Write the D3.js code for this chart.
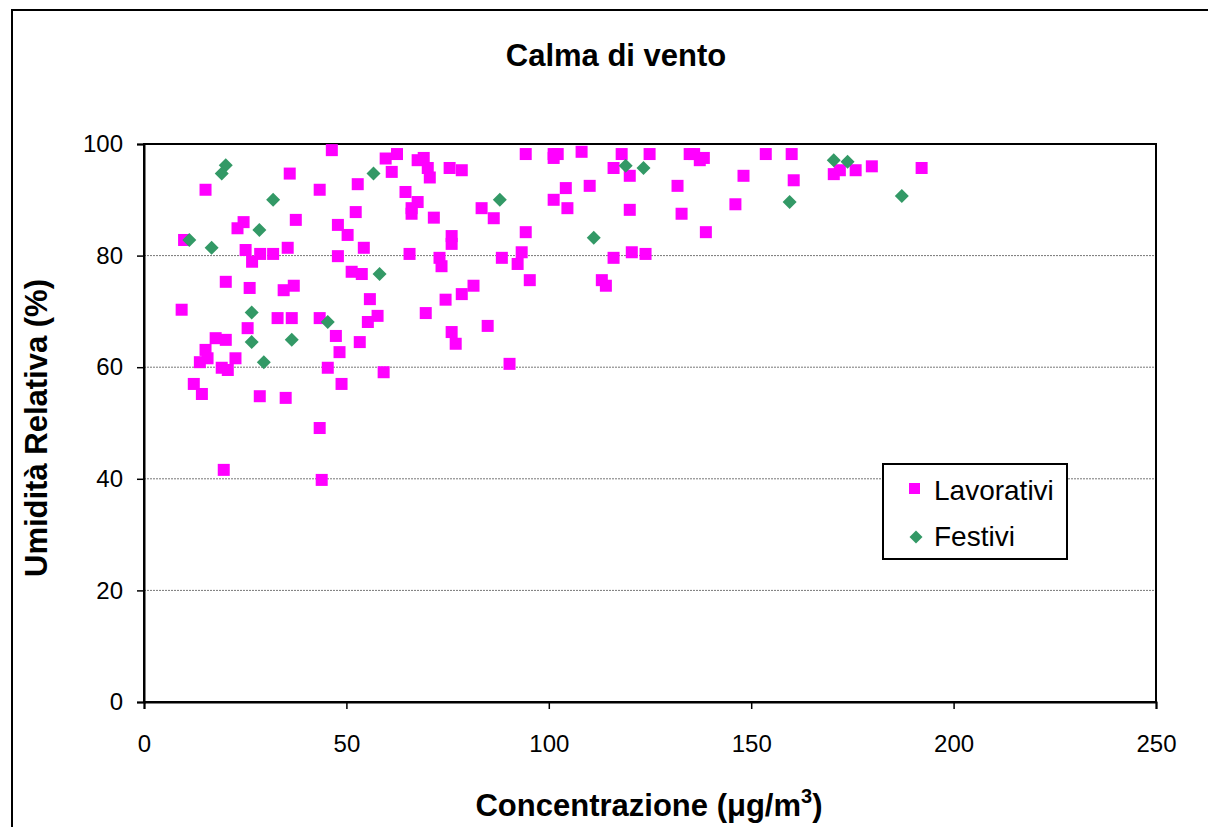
<!DOCTYPE html>
<html>
<head>
<meta charset="utf-8">
<script src="https://cdn.jsdelivr.net/npm/d3@7"></script>
<style>
  html, body { margin: 0; padding: 0; background: #fff; }
  svg { display: block; font-family: "Liberation Sans", Arial, sans-serif; }
</style>
</head>
<body>
<svg id="chart" width="1208" height="827"></svg>
<script>
// ---- Data ----
const title = "Calma di vento";
const xTitle = "Concentrazione (";
const yTitle = "Umidità Relativa (%)";
const seriesNames = ["Lavorativi", "Festivi"];
const xTicks = [0, 50, 100, 150, 200, 250];
const yTicks = [0, 20, 40, 60, 80, 100];

const lavX = [15.2,23.1,24.6,9.9,25.1,28.7,26.7,31.9,35.5,36.0,43.4,37.5,46.4,47.9,50.3,47.9,54.3,52.3,52.8,59.7,61.2,62.5,20.2,26.1,34.5,37.0,51.3,53.8,55.8,9.3,33.0,36.5,43.4,57.7,55.3,25.6,17.7,20.2,15.2,15.7,13.8,22.6,47.4,48.3,53.3,19.2,20.7,45.4,59.2,12.3,14.3,48.8,28.6,35.0,43.4,19.7,43.9,67.6,69.1,70.1,70.6,75.5,78.5,64.6,67.6,66.1,66.1,71.6,94.3,101.2,102.2,101.2,108.1,118.0,116.0,120.0,104.2,110.1,101.2,104.6,120.0,83.4,86.4,76.0,76.0,94.3,65.6,73.0,73.5,88.4,93.3,92.3,116.0,120.5,95.3,113.1,114.1,74.5,78.5,81.4,69.6,76.0,77.0,84.9,90.3,124.9,134.8,135.9,137.3,138.3,153.6,160.0,131.8,148.1,160.5,170.4,171.9,175.8,179.8,192.1,132.8,146.1,138.8,123.9];
const lavY = [91.8,84.9,86.0,82.8,81.0,80.3,78.9,80.3,81.4,94.7,91.8,86.4,98.9,85.5,83.7,79.9,81.4,87.8,92.8,97.4,95.0,98.2,75.3,74.2,73.8,74.6,77.1,76.7,72.2,70.3,68.8,68.8,68.8,69.2,68.1,67.0,65.2,64.9,63.1,61.6,60.9,61.6,65.6,62.7,64.5,59.9,59.5,59.9,59.1,57.0,55.2,57.0,54.8,54.5,49.1,41.6,39.8,97.1,97.5,95.7,94.0,95.7,95.3,91.4,89.6,88.5,87.5,86.8,98.2,98.2,98.2,97.5,98.6,98.2,95.7,94.3,92.1,92.5,90.0,88.5,88.2,88.5,86.7,83.5,82.1,84.2,80.3,79.6,78.1,79.6,80.6,78.5,79.6,80.6,75.6,75.6,74.6,72.1,73.1,74.6,69.7,66.3,64.2,67.4,60.6,98.2,98.2,98.2,97.1,97.5,98.2,98.2,92.5,94.3,93.5,94.6,95.3,95.3,96.0,95.7,87.5,89.2,84.2,80.3];

const fesX = [20.2,19.2,31.9,28.5,11.2,16.7,56.7,58.2,26.6,26.6,36.5,45.4,29.6,87.9,119.0,123.4,111.1,170.4,173.8,159.5,187.2];
const fesY = [96.2,94.7,90.0,84.6,82.8,81.4,94.7,76.7,69.8,64.5,64.9,68.1,60.9,90.0,96.1,95.7,83.2,97.1,96.8,89.6,90.7];

// ---- Layout ----
const svg = d3.select("#chart");
const plot = { left: 144, top: 144, right: 1156, bottom: 702 };
const x = d3.scaleLinear().domain([0, 250]).range([plot.left, plot.right]);
const y = d3.scaleLinear().domain([0, 100]).range([plot.bottom, plot.top]);
const magenta = "#FF00FF", green = "#339966";

// outer chart frame
svg.append("rect").attr("x", 12).attr("y", 10).attr("width", 1220).attr("height", 840)
  .attr("fill", "#fff").attr("stroke", "#000").attr("stroke-width", 2);

// gridlines
svg.append("g").selectAll("line").data(yTicks.filter(d => d > 0 && d < 100)).join("line")
  .attr("x1", plot.left).attr("x2", plot.right)
  .attr("y1", d => y(d)).attr("y2", d => y(d))
  .attr("stroke", "#777").attr("stroke-width", 1).attr("stroke-dasharray", "2,1");

// plot border
svg.append("rect").attr("x", plot.left).attr("y", plot.top)
  .attr("width", plot.right - plot.left).attr("height", plot.bottom - plot.top)
  .attr("fill", "none").attr("stroke", "#000").attr("stroke-width", 2);

// axes
const yAxis = d3.axisLeft(y).tickValues(yTicks).tickSize(7).tickPadding(14);
const xAxis = d3.axisBottom(x).tickValues(xTicks).tickSize(7).tickPadding(26);
const gy = svg.append("g").attr("transform", `translate(${plot.left},0)`).call(yAxis);
const gx = svg.append("g").attr("transform", `translate(0,${plot.bottom})`).call(xAxis);
[gx, gy].forEach(g => {
  g.select(".domain").attr("stroke", "#000").attr("stroke-width", 2);
  g.selectAll(".tick line").attr("stroke", "#000").attr("stroke-width", 1.5);
  g.selectAll(".tick text").attr("fill", "#000").style("font-size", "24px")
    .style("font-family", '"Liberation Sans", Arial, sans-serif');
});

// markers: Lavorativi squares
const sq = 12;
svg.append("g").selectAll("rect").data(lavX.map((d, i) => [d, lavY[i]])).join("rect")
  .attr("x", d => x(d[0]) - sq / 2).attr("y", d => y(d[1]) - sq / 2)
  .attr("width", sq).attr("height", sq).attr("fill", magenta);

// Festivi diamonds
const dm = 7;
const diamond = (cx, cy, r) => `M${cx},${cy - r}L${cx + r},${cy}L${cx},${cy + r}L${cx - r},${cy}Z`;
svg.append("g").selectAll("path").data(fesX.map((d, i) => [d, fesY[i]])).join("path")
  .attr("d", d => diamond(x(d[0]), y(d[1]), dm)).attr("fill", green);

// title
svg.append("text").attr("x", 616).attr("y", 66).attr("text-anchor", "middle")
  .style("font-size", "31px").style("font-weight", "bold").text(title);

// x title
const xt = svg.append("text").attr("x", 649).attr("y", 816).attr("text-anchor", "middle")
  .style("font-size", "31px").style("font-weight", "bold");
xt.append("tspan").text(xTitle);
xt.append("tspan").text("μg/m");
xt.append("tspan").attr("dy", -13).style("font-size", "20px").text("3");
xt.append("tspan").attr("dy", 13).text(")");

// y title
svg.append("text").attr("transform", "translate(47,428) rotate(-90)").attr("text-anchor", "middle")
  .style("font-size", "31px").style("font-weight", "bold").text(yTitle);

// legend
const lg = svg.append("g");
lg.append("rect").attr("x", 883).attr("y", 464).attr("width", 184).attr("height", 95)
  .attr("fill", "#fff").attr("stroke", "#000").attr("stroke-width", 2);
lg.append("rect").attr("x", 909).attr("y", 483).attr("width", 11).attr("height", 11).attr("fill", magenta);
lg.append("path").attr("d", diamond(916, 537, 6.5)).attr("fill", green);
lg.append("text").attr("x", 934).attr("y", 500).style("font-size", "28px").text(seriesNames[0]);
lg.append("text").attr("x", 934).attr("y", 546).style("font-size", "28px").text(seriesNames[1]);
</script>
</body>
</html>
